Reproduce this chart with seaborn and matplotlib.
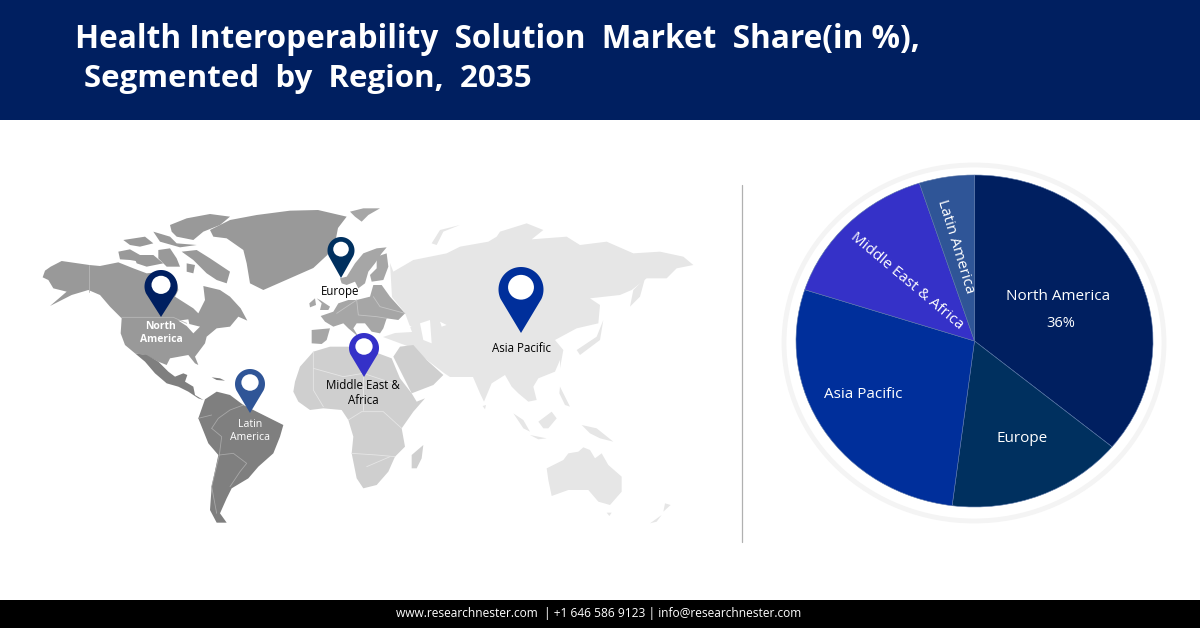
import numpy as np
import seaborn as sns
from matplotlib import pyplot as plt
from matplotlib.patches import Ellipse, Polygon, Rectangle

sns.set_theme(style='white')
plt.rcParams['font.family'] = ['Open Sans', 'DejaVu Sans']

# %%
# Data
regions = ['North America', 'Europe', 'Asia Pacific', 'Middle East & Africa', 'Latin America']
shares = [36, 16, 28, 15, 5]
region_colors = ['#001F60', '#00305F', '#002F9B', '#3531C8', '#2F5597']

title_lines = ['Health Interoperability  Solution  Market  Share(in %),', 'Segmented  by  Region,  2035']
footer = 'www.researchnester.com  | +1 646 586 9123 | info@researchnester.com'

# %%
# Map outlines, traced off 3x crops. Each tuple is (crop x, crop y, outlines)
north_america = (30, 200, [
    [(38,232),(45,212),(62,200),(95,183),(178,195),(210,198),(265,187),(310,205),(350,220),(400,215),(440,245),(445,270),
     (435,290),(490,325),(505,340),(525,300),(520,258),(570,270),(600,290),(632,325),(652,362),(625,350),(600,380),(560,385),
     (530,410),(525,430),(495,470),(505,495),(495,490),(475,465),(420,475),(410,495),(385,485),(345,465),(315,460),(285,435),
     (272,400),(275,355),(240,320),(210,285),(175,270),(125,285),(60,318),(110,275),(70,265),(55,240)],
    [(265,155),(300,148),(330,165),(330,185),(300,180),(270,178)],
    [(280,120),(345,110),(370,130),(330,140),(300,135)],
    [(420,75),(470,55),(540,42),(600,50),(570,75),(520,95),(490,120),(440,110),(425,95)],
    [(455,155),(500,150),(540,175),(600,215),(590,250),(560,240),(530,220),(490,180)],
    [(370,95),(420,110),(440,130),(500,135),(450,142),(390,125)],
    [(385,150),(420,145),(440,175),(450,200),(410,200),(385,175)],
    [(310,165),(370,165),(400,190),(350,200),(320,190)],
    [(470,190),(495,195),(490,220),(470,215)],
    [(540,90),(600,60),(680,45),(780,32),(864,30),(950,50),(924,84),(915,130),(892,165),(850,204),(700,270),(660,250),
     (650,190),(640,150),(590,115),(550,110)],
])
great_lakes = (30, 200, [[(445,362),(475,358),(478,372),(510,380),(490,400),(470,378)]])
europe = (280, 200, [
    [(180,235),(200,230),(225,190),(250,160),(290,145),(320,142),(305,160),(285,190),(265,215),(255,250),(235,265),(225,245),(200,255),(185,250)],
    [(290,170),(320,160),(325,200),(310,240),(275,245),(270,225),(290,205)],
    [(110,295),(120,300),(150,320),(145,330),(120,330),(125,310)],
    [(88,310),(105,295),(108,315),(90,322)],
    [(122,348),(160,335),(175,310),(205,300),(230,300),(270,290),(280,255),(305,255),(330,290),(375,340),(355,360),(320,355),
     (310,385),(300,400),(275,395),(255,370),(230,370),(220,385),(235,410),(205,385),(190,370),(160,380),(135,365)],
    [(95,390),(150,385),(140,420),(125,432),(95,430)],
    [(75,180),(100,172),(120,180),(105,195),(85,198)],
    [(210,35),(250,25),(300,25),(265,45),(245,65),(225,50)],
])
africa = (280, 340, [
    [(45,125),(60,80),(100,35),(150,20),(205,20),(295,40),(335,55),(360,115),(395,160),(410,185),(435,175),(400,215),(365,265),
     (375,320),(345,350),(325,395),(290,435),(250,445),(230,415),(215,340),(220,290),(205,240),(185,210),(130,205),(90,210),(55,185),(40,155)],
    [(340,50),(360,20),(400,15),(440,60),(490,105),(460,135),(395,160),(370,110)],
    [(395,345),(430,315),(425,355),(410,385),(395,385)],
])
latin_america = (130, 340, [
    [(15,40),(50,45),(85,65),(115,95),(135,110),(160,100),(172,105),(165,125),(190,140),(195,165),(220,180),(205,175),(175,155),(145,140),(110,130),(75,100),(45,65)],
    [(225,178),(260,155),(300,165),(340,195),(400,225),(460,255),(450,290),(430,340),(385,380),(355,415),(305,445),(290,475),(270,520),(290,548),(260,548),(240,510),(245,440),(265,345),(235,310),(205,235)],
    [(245,112),(270,115),(285,122),(260,120)],
])
asia_north = [(-20,215),(40,180),(140,160),(180,140),(265,125),(290,110),(300,95),(380,70),(430,90),(395,118),(500,110),(540,135),
    (620,125),(700,160),(780,155),(850,170),(880,195),(830,205),(800,235),(740,235),(695,270),(660,285),(570,295),(600,315),
    (595,370),(530,385),(465,420),(490,450),(480,505)]
asia_south = [(240,0),(225,35),(175,55),(160,80),(170,120),(145,125),(115,100),(95,80),(75,45),(35,70),(12,125),(0,100)]
asia_west = [(473,377),(450,377),(444,373),(410,347),(383,337),(395,333),(412,332),(405,313),(392,297),(390,263)]
asia_far = (400, 200, [
    [(735,235),(700,270),(690,320),(720,290)],
    [(610,360),(600,420),(540,465),(530,450),(590,410)],
    [(95,130),(120,90),(180,75),(130,95),(110,135)],
])
asia_islands = (480, 360, [
    [(8,138),(18,135),(15,148)],
    [(100,160),(130,180),(150,215),(130,205)],
    [(150,225),(200,235),(175,238)],
    [(175,185),(215,155),(230,175),(205,205),(190,205)],
    [(305,195),(350,205),(400,245),(360,235),(330,220)],
    [(240,80),(250,100),(270,140),(255,135),(238,100)],
    [(200,325),(250,300),(265,280),(295,275),(310,262),(330,270),(345,295),(365,280),(385,315),(425,350),(425,395),(390,435),
     (355,425),(325,390),(265,390),(215,408),(205,360)],
    [(380,458),(395,458),(388,468)],
    [(555,430),(572,435),(550,455)],
    [(510,490),(545,465),(530,485)],
])
inland_seas = (400, 200, [
    [(60,370),(90,360),(95,430),(70,420)],
    [(120,365),(140,375),(125,380)],
])
black_sea = (280, 200, [[(335,385),(370,370),(395,380),(350,395)]])

# Thin inner borders
latin_borders = (130, 340, [
    [(245,265),(265,235),(300,210),(340,195)],
    [(245,265),(275,290),(268,345),(310,340),(350,370),(330,395),(300,440)],
    [(205,235),(245,225)], [(268,345),(245,440),(260,520)],
])
africa_borders = (280, 340, [
    [(100,85),(190,110),(250,100),(340,130)], [(100,35),(100,150),(130,200)], [(205,240),(245,215),(310,215),(365,265)],
    [(215,340),(290,345),(345,350)], [(260,380),(330,350)], [(250,100),(250,210)],
])
europe_borders = (280, 200, [
    [(170,340),(230,300)], [(230,300),(235,345),(290,350),(320,355)], [(280,290),(300,320),(375,340)],
])
lower48_border = (30, 200, [[(178,195),(178,275)], [(275,352),(430,352),(470,370)]])

# Pins: x, top, tip, width in pixels
pins = {'North America': (161, 270, 317, 33), 'Europe': (341, 237, 278, 27), 'Asia Pacific': (521, 267, 333, 45),
        'Middle East & Africa': (364, 333, 377, 30), 'Latin America': (250, 369, 413, 30)}

# %%
def to_px(x0, y0, points):
    return [(x0 + x / 3, y0 + y / 3) for x, y in points]

def draw_land(ax, group, color):
    x0, y0, polys = group
    for p in polys:
        ax.add_patch(Polygon(to_px(x0, y0, p), closed=True, fc=color, ec='none'))

def draw_borders(ax, group, color):
    x0, y0, lines = group
    for line in lines:
        xy = np.array(to_px(x0, y0, line))
        ax.plot(xy[:, 0], xy[:, 1], color=color, lw=0.6)

def draw_pin(ax, x, top, tip, w, color):
    r = w / 2
    cy = top + r
    t = np.radians(np.linspace(-25, 205, 60))
    head = [(x + r * np.cos(a), cy - r * np.sin(a)) for a in t]
    ax.add_patch(Polygon(head + [(x, tip)], closed=True, fc=color, ec='none', zorder=4))
    ax.add_patch(Ellipse((x, cy - r * 0.1), r * 1.15, r * 1.1, fc='white', ec='none', zorder=5))

def px_text(fig, x, y, s, **kwargs):
    kwargs.setdefault('ha', 'center')
    kwargs.setdefault('va', 'center')
    kwargs.setdefault('color', 'white')
    fig.text(x / 1200, 1 - y / 628, s, **kwargs)

# %%
fig = plt.figure(figsize=(12, 6.28), dpi=100, facecolor='white')
bg = fig.add_axes([0, 0, 1, 1], zorder=0)
bg.set_xlim(0, 1200)
bg.set_ylim(628, 0)
bg.axis('off')

# Header, footer and divider
bg.add_patch(Rectangle((0, 0), 1200, 120, fc='#001F60', ec='none'))
bg.add_patch(Rectangle((0, 600), 1200, 28, fc='black', ec='none'))
bg.plot([741.5, 741.5], [185, 542], color='#b0b0b0', lw=0.9)

# World map
asia_outline = to_px(400, 200, asia_north) + to_px(480, 360, asia_south) + asia_west
bg.add_patch(Polygon(asia_outline, closed=True, fc='#E6E6E6', ec='none'))
draw_land(bg, asia_far, '#E6E6E6')
draw_land(bg, asia_islands, '#E6E6E6')
draw_land(bg, inland_seas, 'white')
draw_land(bg, africa, '#CFCFCF')
draw_land(bg, black_sea, 'white')
draw_land(bg, europe, '#A6A6A6')
draw_land(bg, north_america, '#999999')
draw_land(bg, great_lakes, 'white')
draw_land(bg, latin_america, '#7F7F7F')
draw_borders(bg, latin_borders, '#A8A8A8')
draw_borders(bg, africa_borders, '#E6E6E6')
draw_borders(bg, europe_borders, '#C4C4C4')
draw_borders(bg, lower48_border, '#B8B8B8')

palette = sns.color_palette(region_colors)
for name, color in zip(regions, palette):
    draw_pin(bg, *pins[name], color)

# Ring behind the pie
bg.add_patch(Ellipse((974, 343), 380, 356, fc='white', ec='#F4F4F4', lw=3.5))

# Pie, stretched like the reference
ax = fig.add_axes([796 / 1200, 1 - 507 / 628, 357 / 1200, 332 / 628], zorder=1)
ax.pie(shares, colors=palette, startangle=90, counterclock=False, radius=1,
       wedgeprops={'edgecolor': '#5a76a8', 'linewidth': 0.4})
ax.set_aspect('auto')
ax.set_xlim(-1, 1)
ax.set_ylim(-1, 1)

# Text
px_text(fig, 75, 48.5, title_lines[0], ha='left', va='baseline', fontsize=22.7, fontweight='bold')
px_text(fig, 84, 87, title_lines[1], ha='left', va='baseline', fontsize=22.5, fontweight='bold')
px_text(fig, 599, 614, footer, fontsize=8.66)

px_text(fig, 1058, 296, 'North America', fontsize=11)
px_text(fig, 1061, 323, '36%', fontsize=10.5)
px_text(fig, 1022, 439, 'Europe', fontsize=11)
px_text(fig, 863, 394, 'Asia Pacific', fontsize=11)
px_text(fig, 907, 281, 'Middle East & Africa', fontsize=11, rotation=-40, rotation_mode='anchor')
px_text(fig, 956, 247, 'Latin America', fontsize=11, rotation=-73, rotation_mode='anchor')

px_text(fig, 161, 333, 'North\nAmerica', fontsize=7.5, fontweight='bold', linespacing=1.3)
px_text(fig, 340, 291, 'Europe', fontsize=8.3, color='black')
px_text(fig, 521, 348, 'Asia Pacific', fontsize=8.3, color='black')
px_text(fig, 363, 393, 'Middle East &\nAfrica', fontsize=8.3, color='black', linespacing=1.25)
px_text(fig, 250, 431, 'Latin\nAmerica', fontsize=7.6, linespacing=1.3)

fig.savefig('out.png', dpi=100)
